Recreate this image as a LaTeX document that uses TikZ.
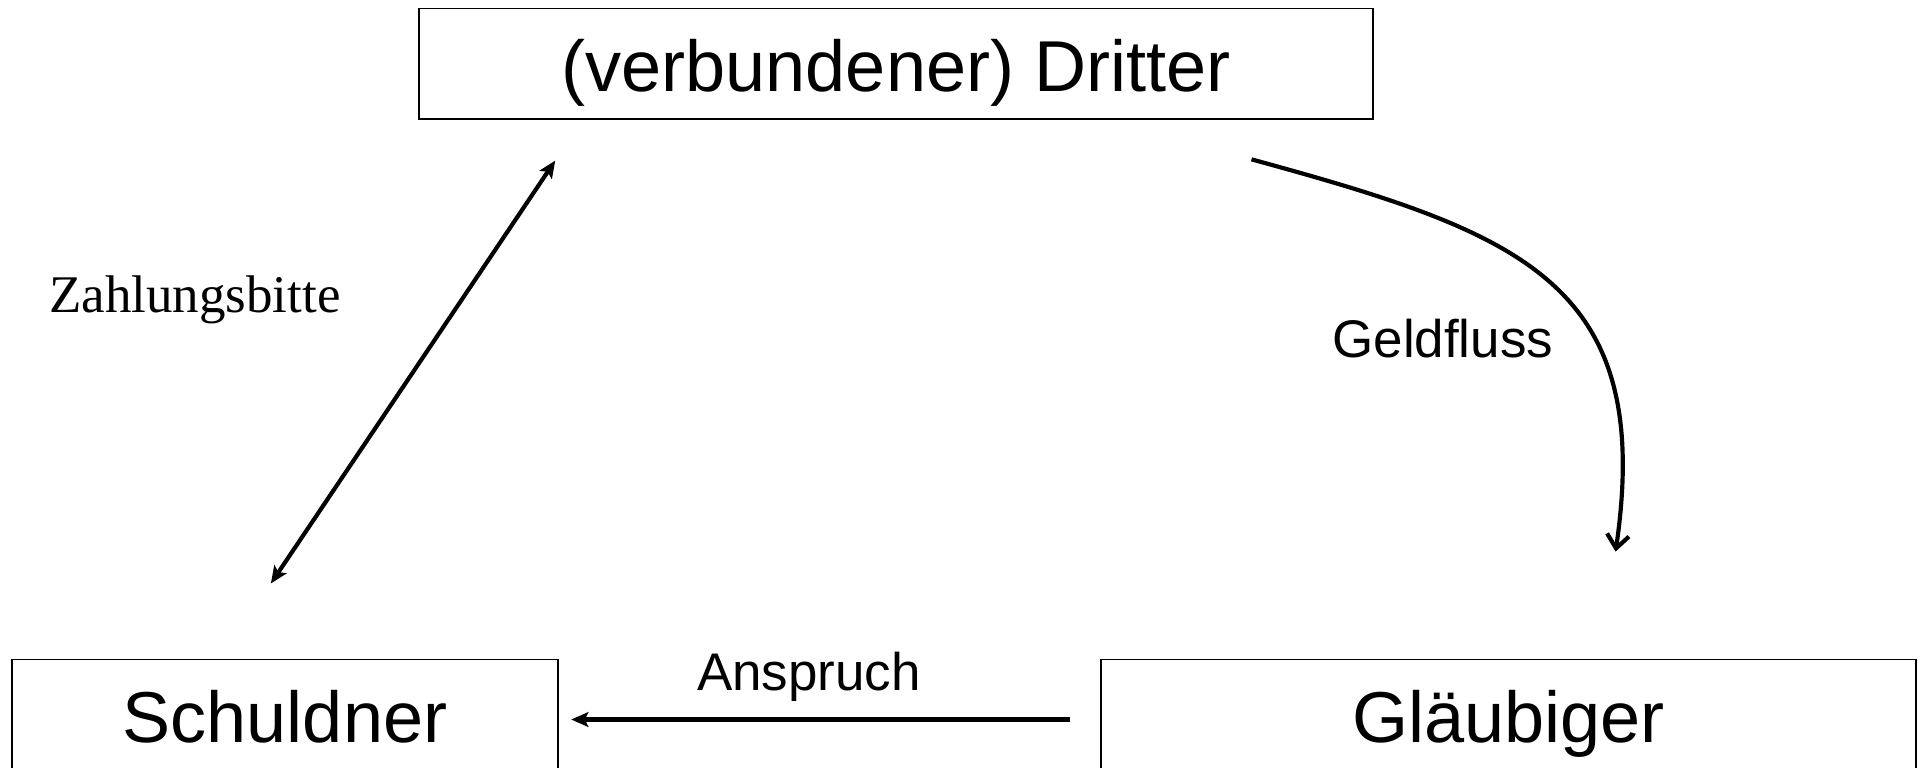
\documentclass[tikz,border=0pt]{standalone}
\usepackage{fontspec}
\setmainfont{Liberation Sans}
\newfontfamily\serifface{Liberation Serif}
\usetikzlibrary{arrows.meta}
\begin{document}
\begin{tikzpicture}[x=0.5pt,y=-0.5pt,
  party/.style={draw=black,line width=0.7pt,inner sep=0pt,
    font=\fontsize{29.4}{34}\selectfont,text height=23pt,text depth=0pt},
  lbl/.style={inner sep=0pt,font=\fontsize{21.6}{26}\selectfont},
  conn/.style={line width=1.7pt},
  solid head/.style={-{Stealth[length=7pt,width=6pt,inset=1.5pt]}},
]
\useasboundingbox (0,0) rectangle (1568,626);
\clip (0,0) rectangle (1568,626);
\node[party,minimum width=389pt,minimum height=45pt] (dritter) at (731,52) {(verbundener) Dritter};
\node[party,minimum width=222.5pt,minimum height=45pt] (schuldner) at (232.5,583) {Schuldner};
\node[party,minimum width=332.5pt,minimum height=45pt] (glaeubiger) at (1230.5,583) {Gläubiger};

\coordinate (zTop) at (453,131);
\coordinate (zBot) at (221,476);
\draw[conn,{Stealth[length=7pt,width=6pt,inset=1.5pt]}-{Stealth[length=7pt,width=6pt,inset=1.5pt]}] (zBot) -- (zTop);
\node[lbl,font=\serifface\fontsize{21.6}{26}\selectfont,anchor=base] (zahl) at (159,255) {Zahlungsbitte};

\coordinate (gStart) at (1021,130);
\coordinate (gEnd) at (1318,450);
\draw[conn,-{Straight Barb[length=5.5pt,width=9pt]}] (gStart) .. controls (1240,190) and (1350,230) .. (gEnd);
\node[lbl,anchor=base] (geld) at (1177,292) {Geldfluss};

\coordinate (aStart) at (873,587);
\coordinate (aEnd) at (466,587);
\draw[conn,solid head] (aStart) -- (aEnd);
\node[lbl,anchor=base] (anspruch) at (660,563) {Anspruch};
\end{tikzpicture}
\end{document}
